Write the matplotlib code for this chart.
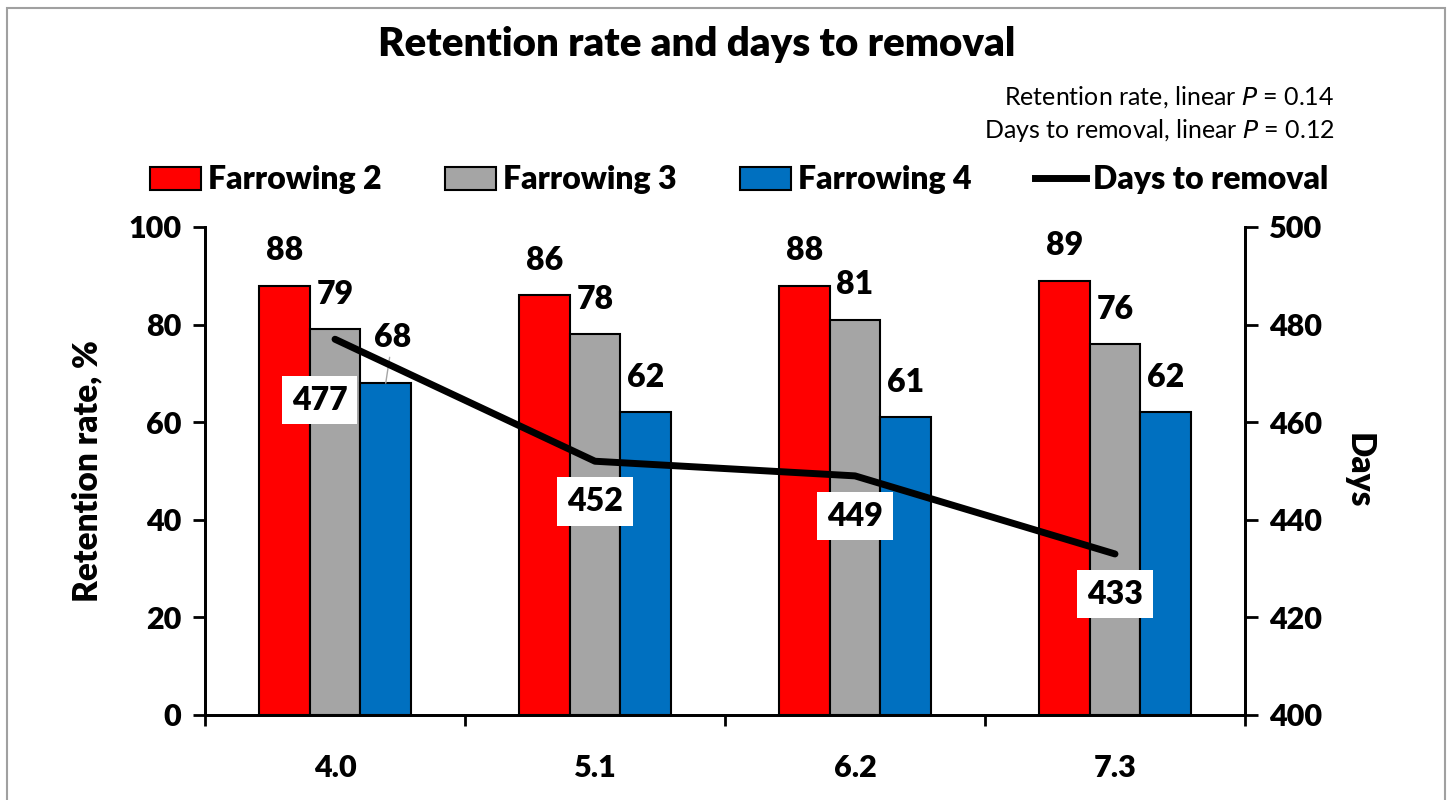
import matplotlib
matplotlib.use('Agg')
import matplotlib.pyplot as plt
import numpy as np
from matplotlib.patches import Patch, Rectangle
from matplotlib.lines import Line2D

plt.rcParams['font.family'] = ['Lato', 'DejaVu Sans']

# data
categories = ['4.0', '5.1', '6.2', '7.3']
farrowing_2 = [88, 86, 88, 89]
farrowing_3 = [79, 78, 81, 76]
farrowing_4 = [68, 62, 61, 62]
days_to_removal = [477, 452, 449, 433]
series_names = ['Farrowing 2', 'Farrowing 3', 'Farrowing 4']
series_colors = ['#FF0000', '#A5A5A5', '#0070C0']

W = 'heavy'

fig = plt.figure(figsize=(14.49, 8), dpi=100)
ax = fig.add_axes([0.1415, 0.10625, 0.7177, 0.61])
ax2 = ax.twinx()

x = np.arange(len(categories))
width = 0.195
offsets = [-width, 0, width]
for vals, off, col in zip([farrowing_2, farrowing_3, farrowing_4], offsets, series_colors):
    bars = ax.bar(x + off, vals, width, color=col, edgecolor='black', linewidth=1.5, zorder=2)
    for i, (b, v) in enumerate(zip(bars, vals)):
        cx = b.get_x() + b.get_width() / 2
        if col == '#0070C0' and i == 0:
            # label moved up a bit with a leader line, as in the original
            ax.annotate(str(v), xy=(cx, v), xytext=(5, 33), textcoords='offset points',
                        ha='center', va='center', fontsize=23, fontweight=W,
                        arrowprops=dict(arrowstyle='-', color='#A5A5A5', lw=1,
                                        shrinkA=2, shrinkB=0))
        else:
            ax.annotate(str(v), xy=(cx, v), xytext=(0, 25), textcoords='offset points',
                        ha='center', va='center', fontsize=23, fontweight=W)

ax.set_xlim(-0.5, len(categories) - 0.5)
ax.set_ylim(0, 100)
ax.set_yticks(np.arange(0, 101, 20))
ax.set_xticks(np.arange(-0.5, len(categories), 1.0))
ax.set_xticklabels([])
ax.set_xticks(x, minor=True)
ax.set_xticklabels(categories, minor=True)
ax.tick_params(axis='x', which='major', length=8, width=2, direction='out')
ax.tick_params(axis='x', which='minor', length=0, pad=28, labelsize=22)
ax.tick_params(axis='y', length=9, width=2, direction='out', labelsize=22, pad=8)
for lab in ax.get_xticklabels(minor=True) + ax.get_yticklabels():
    lab.set_fontweight(W)
ax.set_ylabel('Retention rate, %', fontsize=24, fontweight=W, labelpad=18)

ax2.plot(x, days_to_removal, color='black', linewidth=5, solid_capstyle='round',
         solid_joinstyle='round', zorder=3)
ax2.set_ylim(400, 500)
ax2.set_yticks(np.arange(400, 501, 20))
ax2.tick_params(axis='y', length=9, width=2, direction='out', labelsize=22, pad=8)
for lab in ax2.get_yticklabels():
    lab.set_fontweight(W)
ax2.set_ylabel('Days', fontsize=24, fontweight=W, rotation=270, labelpad=38)

for i, d in enumerate(days_to_removal):
    off = (-11, -44) if i == 0 else (0, -29)
    ax2.annotate(str(d), xy=(x[i], d), xytext=off, textcoords='offset points',
                 ha='center', va='center', fontsize=23, fontweight=W,
                 bbox=dict(boxstyle='square,pad=0.3', facecolor='white', edgecolor='none'))

for a in (ax, ax2):
    a.spines['top'].set_visible(False)
    for s in ('left', 'right', 'bottom'):
        a.spines[s].set_linewidth(2)

fig.text(0.481, 0.944, 'Retention rate and days to removal', ha='center', va='center',
         fontsize=29, fontweight=W)
fig.text(0.921, 0.879, 'Retention rate, linear $\\it{P}$ = 0.14', ha='right', va='center',
         fontsize=18)
fig.text(0.921, 0.837, 'Days to removal, linear $\\it{P}$ = 0.12', ha='right', va='center',
         fontsize=18)

handles = [Patch(facecolor=c, edgecolor='black', linewidth=1.5) for c in series_colors]
handles.append(Line2D([0], [0], color='black', linewidth=5))
leg = fig.legend(handles, series_names + ['Days to removal'], loc='center',
                 bbox_to_anchor=(0.51, 0.775), ncol=4, frameon=False,
                 prop={'size': 23, 'weight': W}, handlelength=1.6,
                 handletextpad=0.2, columnspacing=2.0)

fig.patches.append(Rectangle((0.005, -0.02), 0.992, 1.01, transform=fig.transFigure,
                             fill=False, edgecolor='#A0A0A0', linewidth=1.5))

fig.savefig('out.png', dpi=100)
